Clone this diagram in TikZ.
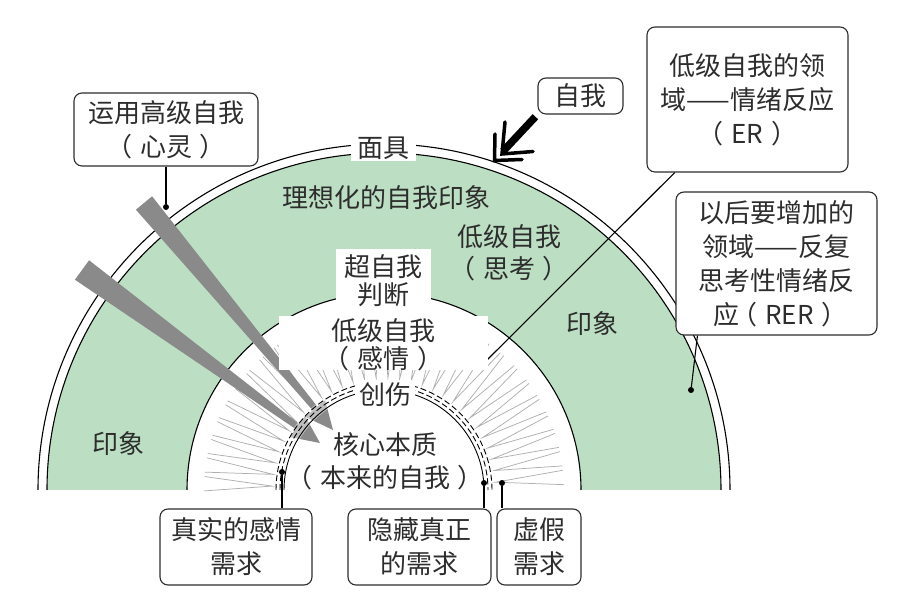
\documentclass[tikz,border=0pt]{standalone}
\usepackage{fontspec}
\setmainfont{Noto Sans CJK SC}
\newcommand\myLP{\makebox[1em][l]{\kern-0.3em （}}
\newcommand\myRP{\makebox[1em][l]{\kern0.3em ）}}
\usetikzlibrary{calc}
\definecolor{ringgreen}{RGB}{188,223,195}
\definecolor{txt}{RGB}{45,45,45}
\definecolor{arrowgray}{RGB}{138,138,138}
\definecolor{spikegray}{RGB}{175,175,175}
\begin{document}
\begin{tikzpicture}[x=1pt,y=1pt,
  lbl/.style={font=\fontsize{26}{34}\selectfont, text=txt, align=center, inner sep=0pt},
  tight/.style={lbl, font=\fontsize{26}{28}\selectfont},
  callout/.style={lbl, draw=txt, line width=1.1pt, rounded corners=8pt, fill=white},
  whitebox/.style={fill=white, draw=none, inner sep=0pt},
  pinline/.style={line width=1.8pt, draw=black},
  thinline/.style={line width=1.1pt, draw=black},
  dot/.style={circle, fill=black, inner sep=0pt, minimum size=6pt},
  arcline/.style={line width=1.1pt, draw=black},
  ringline/.style={line width=0.9pt, draw=black},
  bigarrow/.style={fill=arrowgray, draw=none},
]
\useasboundingbox (0,0) rectangle (915,615);
\coordinate (C) at (384,125);

% green ring
\fill[ringgreen] ($(C)+(-337,0)$) arc[start angle=180,end angle=0,radius=337]
  -- ($(C)+(197,0)$) arc[start angle=0,end angle=180,radius=197] -- cycle;
\draw[arcline] ($(C)+(-346,0)$) arc[start angle=180,end angle=0,radius=346];
\draw[arcline] ($(C)+(-337,0)$) arc[start angle=180,end angle=0,radius=337];
\draw[arcline] ($(C)+(-197,0)$) arc[start angle=180,end angle=0,radius=197];

% spikes
\begin{scope}[shift={(C)}]
\foreach \a in {4,10,...,178} {
  \draw[spikegray, line width=0.75pt] ({\a-2.3}:180) -- (\a:112) -- ({\a+2.3}:180);
}
\end{scope}

% big gray arrows
\fill[bigarrow] (152.1,418.7) -- (317.4,208.4) -- (325.1,214.8) -- (333,185)
  -- (305.1,198.2) -- (312.8,204.6) -- (135.9,405.3) -- cycle;
\fill[bigarrow] (89.1,354.7) -- (299.1,190.9) -- (305.0,199.0) -- (320,172)
  -- (289.7,178.0) -- (295.5,186.1) -- (74.9,335.3) -- cycle;

% wound ring
\draw[white, opacity=0.45, line width=11pt] ($(C)+(-104,0)$) arc[start angle=180,end angle=0,radius=104];
\draw[ringline] ($(C)+(-100,0)$) arc[start angle=180,end angle=0,radius=100];
\draw[ringline, dash pattern=on 6pt off 3pt] ($(C)+(-104,0)$) arc[start angle=180,end angle=0,radius=104];
\draw[ringline, dash pattern=on 6pt off 3pt] ($(C)+(-108,0)$) arc[start angle=180,end angle=0,radius=108];

% ER callout and its line
\node[callout, minimum width=201, minimum height=145] (ER) at (747.5,515.5) {低级自我的领\\域——情绪反应\\\myLP ER\myRP};
\coordinate (erEnd) at (480,248);
\draw[thinline] (erEnd) -- (ER);

% white label boxes
\node[whitebox, minimum width=95, minimum height=67] (superbox) at (383.5,332.5) {};
\node[whitebox, minimum width=209, minimum height=54] (feelbox) at (383.5,272) {};
\node[tight] (superego) at (383.5,334) {超自我\\判断};
\node[tight] (lowfeel) at (383.5,270) {低级自我\\\myLP 感情\myRP};

% texts in rings
\node[lbl, fill=white, minimum width=65, minimum height=27] (mask) at (383,467) {面具};
\node[lbl] (ideal) at (386,417) {理想化的自我印象};
\node[lbl, font=\fontsize{26}{32}\selectfont] (lowthink) at (509,362) {低级自我\\\myLP 思考\myRP};
\node[lbl] (imgR) at (592,291) {印象};
\node[lbl] (imgL) at (118,171) {印象};
\node[lbl, fill=white, minimum width=60, minimum height=30] (wound) at (385,220) {创伤};
\node[lbl, font=\fontsize{26}{33}\selectfont] (core) at (385,153.5) {核心本质\\\myLP 本来的自我\myRP};

% ego arrow
\node[callout, minimum width=85, minimum height=36] (ego) at (580.5,519) {自我};
\coordinate (egoShaft) at (503.1,463.8);
\draw[line width=7.5pt, shorten >=3pt] (egoShaft) -- (ego.south west);
\draw[line width=3.5pt, line cap=round] (495,481) -- (494.5,454.5) -- (522,455.5);
\draw[line width=3.5pt, line cap=round] (505,493) -- (502,461) -- (533,463.5);

% mind callout
\node[callout, minimum width=184, minimum height=73] (mind) at (166,485.5) {运用高级自我\\\myLP 心灵\myRP};
\node[dot] (mindDot) at (166,408) {};
\draw[pinline] (mind) -- (mindDot);

% RER callout
\node[callout, minimum width=201, minimum height=143] (RER) at (776.5,351.5) {以后要增加的\\领域——反复\\思考性情绪反\\应\myLP RER\myRP};
\node[dot] (rerDot) at (691,225) {};
\coordinate (rerTop) at ($(RER.south west)+(22,0)$);
\draw[thinline] (rerTop) -- (rerDot);

% bottom callouts
\node[callout, minimum width=152, minimum height=76] (real) at (236,68) {真实的感情\\需求};
\node[callout, minimum width=143, minimum height=76] (hidden) at (419.5,68) {隐藏真正\\的需求};
\node[callout, minimum width=84, minimum height=76] (fake) at (539,68) {虚假\\需求};
\node[dot] (d1) at (282,143) {};
\node[dot] (d2) at (484,132) {};
\node[dot] (d3) at (502,132) {};
\draw[pinline] (d1) -- (d1 |- real.north);
\draw[pinline] (d2) -- (d2 |- hidden.north);
\draw[pinline] (d3) -- (d3 |- fake.north);
\end{tikzpicture}
\end{document}
